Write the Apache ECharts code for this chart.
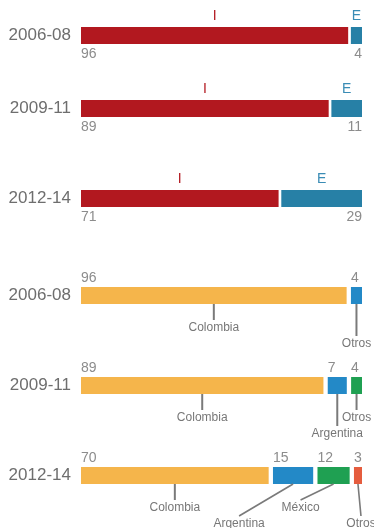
<!DOCTYPE html>
<html><head><meta charset="utf-8">
<script src="https://cdn.jsdelivr.net/npm/echarts@6/dist/echarts.min.js"></script>
<style>html,body{margin:0;padding:0;background:#fff}#c{width:374px;height:528px}</style>
</head><body><div id="c"></div>
<script>
// ---- data ----
const periods = ['2006-08', '2009-11', '2012-14'];
const origenLabels = ['I', 'E'];
const valoresI = [96, 89, 71];
const valoresE = [4, 11, 29];
const paises2006 = ['Colombia', 'Otros'];
const valores2006 = [96, 4];
const paises2009 = ['Colombia', 'Argentina', 'Otros'];
const valores2009 = [89, 7, 4];
const paises2012 = ['Colombia', 'Argentina', 'México', 'Otros'];
const valores2012 = [70, 15, 12, 3];

// ---- layout / style ----
const FONT = '"Liberation Sans", Arial, Helvetica, sans-serif';
const rowTops = [27, 100, 190, 287, 377, 467];
const barH = 17;
const topColors = ['#b2181f', '#2780a6'];
const headColors = ['#b2181f', '#3a8cb5'];
const bottomColors = ['#f5b54b', '#2389c7', '#1fa052', '#e55c3e'];
const valueColor = '#8c8c8c';
const nameColor = '#777777';
const leaderColor = '#7a7a7a';
// [level, dx] per segment
const leaderLayout = [
  [[0, 0], [1, 0]],
  [[0, 0], [1, 0], [0, 0]],
  [[0, 0], [1, -54], [0, -33], [1, 3]]
];
const levelLine = [16, 32];
const levelText = [23.5, 39.5];

const rows = [
  { kind: 'top', period: periods[0], vals: [valoresI[0], valoresE[0]], names: origenLabels },
  { kind: 'top', period: periods[1], vals: [valoresI[1], valoresE[1]], names: origenLabels },
  { kind: 'top', period: periods[2], vals: [valoresI[2], valoresE[2]], names: origenLabels },
  { kind: 'bottom', period: periods[0], vals: valores2006, names: paises2006, leader: leaderLayout[0] },
  { kind: 'bottom', period: periods[1], vals: valores2009, names: paises2009, leader: leaderLayout[1] },
  { kind: 'bottom', period: periods[2], vals: valores2012, names: paises2012, leader: leaderLayout[2] }
];

const grid = [], xAxis = [], yAxis = [], series = [];
rows.forEach((r, i) => {
  grid.push({ left: 81, right: 12, top: rowTops[i], height: barH });
  xAxis.push({ gridIndex: i, type: 'value', min: 0, max: 100, show: false });
  yAxis.push({
    gridIndex: i, type: 'category', data: [r.period],
    axisLine: { show: false }, axisTick: { show: false }, splitLine: { show: false },
    axisLabel: { fontSize: 17, color: '#6e6e6e', margin: 10, fontFamily: FONT }
  });
  let cum = 0;
  const data = r.vals.map((v, k) => { const d = [cum, v, k, r.vals.length, 0]; cum += v; return d; });
  const gap = r.kind === 'top' ? 2.7 : 4.3;
  series.push({
    type: 'custom', xAxisIndex: i, yAxisIndex: i, data: data,
    encode: { x: [0, 1], y: 4 }, silent: true, clip: false,
    renderItem: function (params, api) {
      const start = api.value(0), v = api.value(1), k = api.value(2), n = api.value(3);
      const p0 = api.coord([0, 0]);
      const full = api.size([100, 0])[0];
      const band = api.size([0, 1])[1];
      const scale = (full - gap * (n - 1)) / full;
      const x = p0[0] + api.size([start, 0])[0] * scale + k * gap;
      const w = api.size([v, 0])[0] * scale;
      const yTop = p0[1] - band / 2, yBot = p0[1] + band / 2;
      const children = [];
      children.push({ type: 'rect', shape: { x: x, y: yTop, width: w, height: band },
        style: { fill: r.kind === 'top' ? topColors[k] : bottomColors[k] } });
      if (r.kind === 'top') {
        children.push({ type: 'text', x: x + w / 2, y: yTop - 10.5,
          style: { text: r.names[k], fill: headColors[k], fontSize: 14, fontFamily: FONT,
            align: 'center', verticalAlign: 'middle', textAlign: 'center', textVerticalAlign: 'middle' } });
        const last = k === n - 1;
        children.push({ type: 'text', x: last ? x + w : x, y: yBot + 10.5,
          style: { text: String(v), fill: valueColor, fontSize: 14, fontFamily: FONT,
            align: last ? 'right' : 'left', verticalAlign: 'middle',
            textAlign: last ? 'right' : 'left', textVerticalAlign: 'middle' } });
      } else {
        children.push({ type: 'text', x: x, y: yTop - 8.7,
          style: { text: String(v), fill: valueColor, fontSize: 14, fontFamily: FONT,
            align: 'left', verticalAlign: 'middle', textAlign: 'left', textVerticalAlign: 'middle' } });
        const cx = x + w / 2;
        const lv = r.leader[k][0], dx = r.leader[k][1];
        children.push({ type: 'line', shape: { x1: cx, y1: yBot, x2: cx + dx, y2: yBot + levelLine[lv] },
          style: { stroke: leaderColor, lineWidth: dx === 0 ? 2 : 1.6 } });
        children.push({ type: 'text', x: cx + dx, y: yBot + levelText[lv],
          style: { text: r.names[k], fill: nameColor, fontSize: 12, fontFamily: FONT,
            align: 'center', verticalAlign: 'middle', textAlign: 'center', textVerticalAlign: 'middle' } });
      }
      return { type: 'group', children: children };
    }
  });
});

const chart = echarts.init(document.getElementById('c'), null, { renderer: 'canvas' });
chart.setOption({
  animation: false,
  backgroundColor: '#ffffff',
  textStyle: { fontFamily: FONT },
  grid: grid, xAxis: xAxis, yAxis: yAxis, series: series
});
</script>
</body></html>
